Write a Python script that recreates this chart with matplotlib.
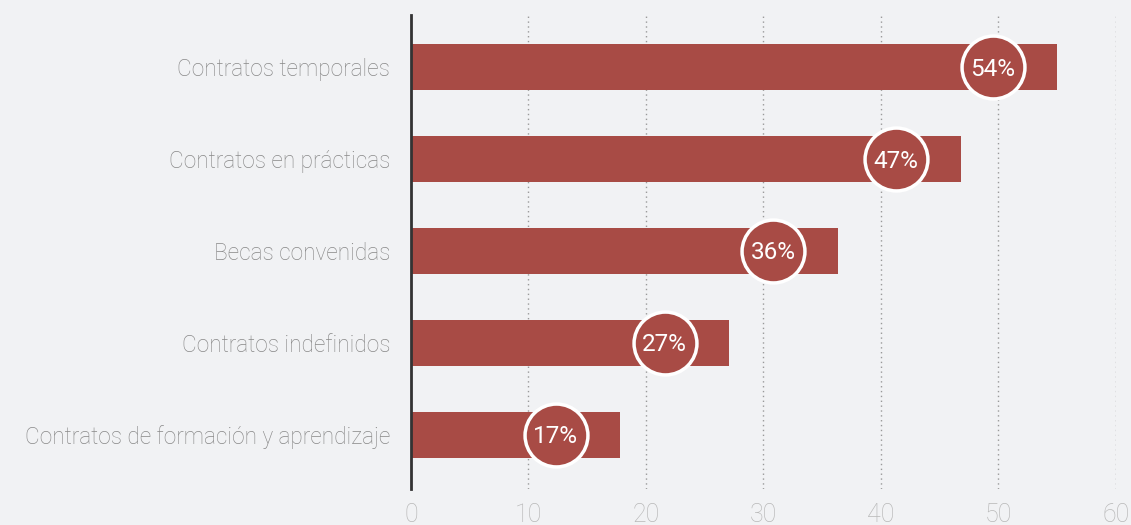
import matplotlib
matplotlib.use("Agg")
import matplotlib.pyplot as plt

categories = ["Contratos de formación y aprendizaje", "Contratos indefinidos",
              "Becas convenidas", "Contratos en prácticas", "Contratos temporales"]
values = [17.8, 27.1, 36.3, 46.8, 55.0]
labels = ["17%", "27%", "36%", "47%", "54%"]
xticks = [0, 10, 20, 30, 40, 50, 60]

bg = "#f1f2f4"
red = "#a84b45"

plt.rcParams['font.family'] = ['Roboto', 'DejaVu Sans']

fig = plt.figure(figsize=(11.31, 5.25), dpi=100, facecolor=bg)
ax = fig.add_axes([0.3634, 0.0686, 0.6233, 0.9028], facecolor=bg)

y = list(range(len(categories)))
ax.barh(y, values, height=0.5, color=red, zorder=2)

# circle badges sit a bit left of each bar's end
for yi, v, lab in zip(y, values, labels):
    ax.scatter(v - 5.5, yi, s=2050, color=red, edgecolor="white", linewidth=2.5, zorder=3)
    ax.text(v - 5.5, yi - 0.02, lab, color="white", fontsize=17.5,
            ha="center", va="center", zorder=4)

ax.set_xlim(0, 60)
ax.set_ylim(-0.59, 4.57)
ax.set_xticks(xticks)
ax.set_xticklabels([str(t) for t in xticks], color="#b8b8b8", fontsize=18, fontweight="light")
ax.set_yticks(y)
ax.set_yticklabels(categories, color="#888888", fontsize=16.3, fontweight="light")
ax.tick_params(axis="both", length=0)
ax.tick_params(axis="x", pad=10)
ax.tick_params(axis="y", pad=15)

for t in xticks[1:]:
    ax.axvline(t, color="#999999", linestyle=(0, (1, 2.5)), linewidth=1, zorder=1)

for s in ["top", "right", "bottom"]:
    ax.spines[s].set_visible(False)
ax.spines["left"].set_color("#333333")
ax.spines["left"].set_linewidth(2)
ax.spines["left"].set_zorder(5)

plt.savefig("out.png", dpi=100, facecolor=bg)
